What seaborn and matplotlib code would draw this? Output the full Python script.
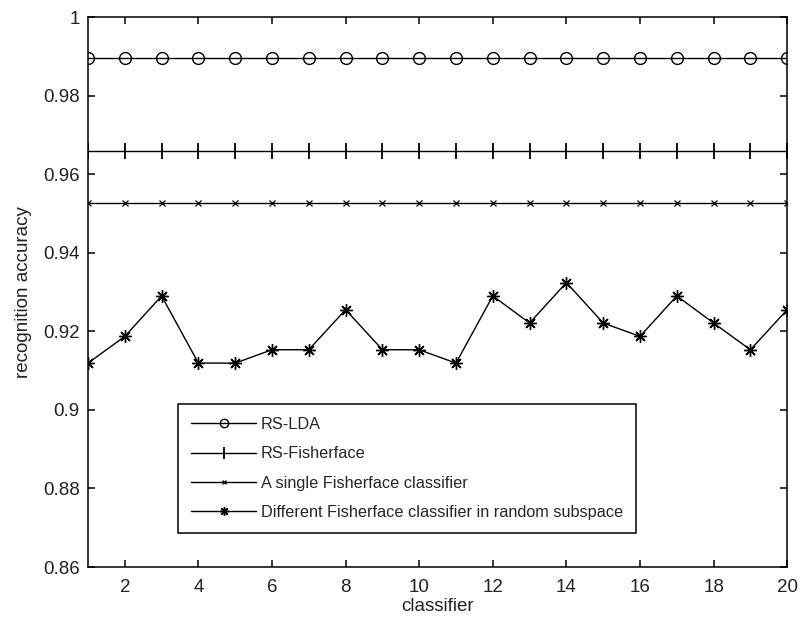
import matplotlib
matplotlib.use("Agg")
import matplotlib.pyplot as plt
import seaborn as sns

classifier = list(range(1, 21))
rs_lda = [0.9896] * 20
rs_fisherface = [0.9659] * 20
single_fisherface = [0.9526] * 20
random_subspace = [0.9119, 0.9187, 0.9290, 0.9119, 0.9119, 0.9153, 0.9153, 0.9255,
                   0.9153, 0.9153, 0.9119, 0.9290, 0.9221, 0.9324, 0.9221, 0.9187,
                   0.9290, 0.9221, 0.9153, 0.9255]
labels = ["RS-LDA", "RS-Fisherface", "A single Fisherface classifier",
          "Different Fisherface classifier in random subspace"]

sns.set_style("ticks")
plt.rcParams["font.family"] = ["Liberation Sans", "DejaVu Sans"]

fig = plt.figure(figsize=(8, 6.25), dpi=100)
ax = fig.add_axes([0.11, 0.0928, 0.874, 0.88])

sns.lineplot(x=classifier, y=rs_lda, ax=ax, color="k", lw=1.0, marker="o",
             markersize=8.5, markerfacecolor="none", markeredgecolor="k",
             markeredgewidth=1.0, label=labels[0])
sns.lineplot(x=classifier, y=rs_fisherface, ax=ax, color="k", lw=1.0, marker="|",
             markersize=11, markeredgecolor="k", markeredgewidth=1.3, label=labels[1])
sns.lineplot(x=classifier, y=single_fisherface, ax=ax, color="k", lw=1.0, marker="x",
             markersize=4, markeredgecolor="k", markeredgewidth=0.9, label=labels[2])
sns.lineplot(x=classifier, y=random_subspace, ax=ax, color="k", lw=1.0, marker=(8, 2, 0),
             markersize=9, markeredgecolor="k", markeredgewidth=1.0, label=labels[3])

ax.set_xlim(1, 20)
ax.set_ylim(0.86, 1.0)
ax.set_xticks(range(2, 21, 2))
yt = [0.86, 0.88, 0.9, 0.92, 0.94, 0.96, 0.98, 1.0]
ax.set_yticks(yt)
ax.set_yticklabels(["0.86", "0.88", "0.9", "0.92", "0.94", "0.96", "0.98", "1"])
ax.tick_params(direction="in", length=5, width=1.1, top=True, right=True,
               labelsize=13.5, color="k", labelcolor="#222222")
ax.tick_params(axis="x", pad=9)
ax.tick_params(axis="y", pad=6)
for s in ax.spines.values():
    s.set_visible(True)
    s.set_color("k")
    s.set_linewidth(1.1)

ax.set_xlabel("classifier", fontsize=13.5, color="#222222", labelpad=1)
ax.set_ylabel("recognition accuracy", fontsize=13.5, color="#222222", labelpad=8)

leg = ax.legend(loc="lower left", bbox_to_anchor=(0.129, 0.062), fontsize=11.7,
                frameon=True, fancybox=False, edgecolor="k", framealpha=1,
                handlelength=4.0, handletextpad=0.3, labelspacing=0.88,
                borderpad=0.8, borderaxespad=0)
leg.get_frame().set_linewidth(1.1)
# smaller markers in the legend, like the original
for h, ms in zip(leg.legend_handles, [6, 9, 3.5, 6.5]):
    h.set_markersize(ms)

fig.savefig("out.png", dpi=100)
